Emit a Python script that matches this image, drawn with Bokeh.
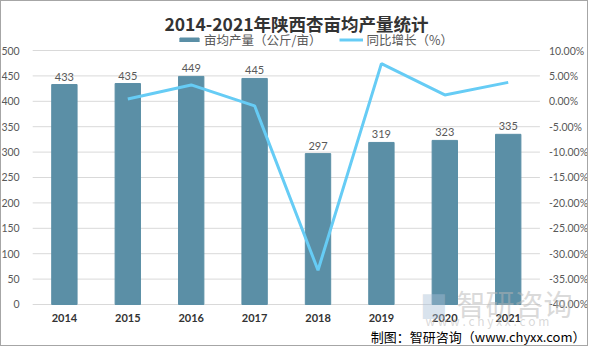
from bokeh.plotting import figure
from bokeh.models import Range1d, Legend, LegendItem, Label, ColumnDataSource
from bokeh.core.properties import value
from bokeh.embed import file_html
from bokeh.resources import INLINE

years = ["2014", "2015", "2016", "2017", "2018", "2019", "2020", "2021"]
yield_per_mu = [433, 435, 449, 445, 297, 319, 323, 335]
growth_years = ["2015", "2016", "2017", "2018", "2019", "2020", "2021"]
growth_pct = [0.46, 3.22, -0.89, -33.26, 7.41, 1.25, 3.72]
left_ticks = [0, 50, 100, 150, 200, 250, 300, 350, 400, 450, 500]
right_ticks = [-40, -35, -30, -25, -20, -15, -10, -5, 0, 5, 10]

BAR = "#5B8FA6"
LINE = "#66CCF5"
GRAY = "#595959"
CJK = "Noto Sans CJK SC"
NUM = "Lato"

W, H = 588, 346
# plot frame covers the whole canvas; value ranges chosen so that the
# 0..500 band sits where the reference plot area is
p = figure(width=W, height=H, output_backend="svg", toolbar_location=None,
           x_range=Range1d(-0.992, 8.282), y_range=Range1d(-84.65, 596.46),
           min_border=0, x_axis_type=None, y_axis_type=None)
p.styles = {"border": "1px solid #A6A6A6"}
p.outline_line_color = None
p.grid.visible = False
p.background_fill_color = "white"
p.border_fill_color = "white"
p.extra_y_ranges = {"pct": Range1d(-48.465, 19.646)}

n = len(years)
xs = list(range(n))
gx = [years.index(y) for y in growth_years]

# grid lines (across the category band)
p.segment(x0=[-0.5] * len(left_ticks), x1=[n - 0.5] * len(left_ticks), y0=left_ticks, y1=left_ticks,
          line_color="#D9D9D9", line_width=1)

src = ColumnDataSource(dict(x=xs, y=yield_per_mu, t=[str(v) for v in yield_per_mu], yr=years,
                            zero=[0] * n))
bars = p.vbar(x="x", top="y", width=0.4, color=BAR, source=src)
p.text(x="x", y="y", text="t", source=src, text_align="center", text_baseline="bottom",
       y_offset=-4, text_font_size="11px", text_color=GRAY, text_font=value(NUM))

line = p.line(x=gx, y=growth_pct, y_range_name="pct", line_color=LINE, line_width=3)

# category labels
p.text(x="x", y="zero", text="yr", source=src, text_align="center", text_baseline="middle",
       y_offset=14, text_font_size="11px", text_font_style="bold", text_color="#333333",
       text_font=value(NUM))

# left axis labels
p.text(x=[-0.5] * len(left_ticks), y=left_ticks, text=[str(v) for v in left_ticks],
       x_offset=-13, text_align="right", text_baseline="middle", text_font_size="10.5px",
       text_color=GRAY, text_font=value(NUM))
# right axis labels
p.text(x=[n - 0.5] * len(right_ticks), y=right_ticks, y_range_name="pct",
       text=["%.2f%%" % v for v in right_ticks],
       x_offset=9, text_align="left", text_baseline="middle", text_font_size="10.5px",
       text_color=GRAY, text_font=value(NUM))

# title
p.add_layout(Label(x=295, y=H - 22, x_units="screen", y_units="screen",
                   text="2014-2021年陕西杏亩均产量统计", text_font_size="17.5px",
                   text_font=CJK, text_font_style="bold", text_color="#333333",
                   text_align="center", text_baseline="middle"))

legend = Legend(items=[LegendItem(label="亩均产量（公斤/亩）", renderers=[bars]),
                       LegendItem(label="同比增长（%）", renderers=[line])],
                orientation="horizontal", border_line_color=None, background_fill_alpha=0,
                label_text_font_size="12.5px", label_text_color=GRAY, label_text_font=CJK,
                glyph_width=24, glyph_height=5, label_height=5, spacing=18, padding=0, margin=0,
                label_standoff=3, location=(176, H - 48))
p.add_layout(legend, "center")

# watermark
p.add_layout(Label(x=421, y=H - 301, x_units="screen", y_units="screen", text="▆",
                   text_font_size="28px", text_color="#A9BFD6", text_alpha=0.45,
                   text_baseline="middle"))
p.add_layout(Label(x=455, y=H - 301, x_units="screen", y_units="screen", text="智研咨询",
                   text_font_size="29px", text_color="#B5B5B5", text_alpha=0.5,
                   text_font=CJK, text_baseline="middle"))
p.add_layout(Label(x=424, y=H - 319, x_units="screen", y_units="screen",
                   text="w w w . c h y x x . c o m", text_font_size="12px",
                   text_color="#C0C0C0", text_alpha=0.6, text_font=CJK, text_baseline="middle"))
# source
p.add_layout(Label(x=584, y=H - 335, x_units="screen", y_units="screen",
                   text="制图：智研咨询（www.chyxx.com）", text_font_size="13px",
                   text_color="#000000", text_align="right", text_font=CJK, text_baseline="middle"))

open("out.html", "w").write(file_html(p, INLINE))
